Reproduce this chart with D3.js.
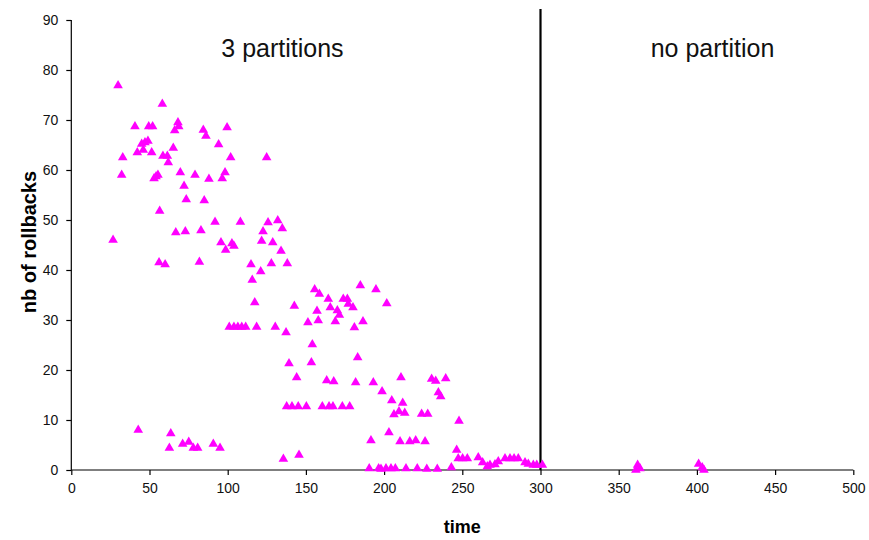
<!DOCTYPE html>
<html>
<head>
<meta charset="utf-8">
<script src="https://cdn.jsdelivr.net/npm/d3@7"></script>
<style>
  body { margin: 0; background: #fff; }
  svg { font-family: "Liberation Sans", Arial, sans-serif; }
</style>
</head>
<body>
<svg width="869" height="540"></svg>
<script>
// rollbacks seen while the system is split in 3 partitions (time, nb)
let threePartitions = [
  [29.9,76.9],[58.2,73.2],[40.7,68.7],[49.5,68.7],[52.0,68.7],
  [68.2,69.5],[68.7,68.7],[66.1,67.9],[84.4,68.0],[86.1,66.8],
  [99.6,68.5],[94.2,65.1],[45.0,65.2],[47.1,65.5],[49.0,65.8],
  [46.0,64.0],[42.2,63.5],[51.4,63.5],[65.2,64.4],[58.6,62.8],
  [61.4,62.8],[62.0,61.5],[32.9,62.5],[101.9,62.5],[124.9,62.5],
  [32.2,59.0],[52.9,58.3],[54.2,58.7],[55.4,59.0],[69.7,59.5],
  [79.1,59.0],[88.0,58.2],[98.3,59.5],[96.5,58.3],[72.1,56.8],
  [73.5,54.1],[85.0,53.9],[56.5,51.8],[91.9,49.6],[108.1,49.6],
  [125.8,49.5],[132.0,49.9],[122.6,47.7],[134.9,48.3],[66.8,47.5],
  [72.9,47.7],[82.9,47.9],[26.7,46.0],[95.7,45.5],[102.7,45.3],
  [104.0,44.8],[98.7,44.0],[121.7,45.8],[128.8,45.5],[134.1,43.8],
  [56.1,41.5],[60.0,41.1],[81.9,41.6],[114.9,41.1],[127.9,41.3],
  [138.1,41.3],[121.1,39.7],[115.7,38.0],[117.3,33.5],
  [101.0,28.6],[104.0,28.6],[106.5,28.6],[109.0,28.6],[111.5,28.6],
  [118.5,28.6],[130.4,28.6],[137.3,27.5],[139.2,21.3],
  [42.8,8.0],[63.6,7.3],[62.7,4.4],[71.2,5.2],[75.1,5.6],
  [78.0,4.4],[80.8,4.4],[90.8,5.2],[95.1,4.4],[135.6,2.2],
  [142.6,32.8],[144.1,18.5],[137.7,12.7],[141.1,12.7],[145.1,12.7],
  [150.3,12.7],[145.6,3.0],
  [155.6,36.1],[158.6,35.2],[164.3,34.2],[165.6,32.5],[157.1,31.8],
  [157.9,29.9],[151.3,29.5],[154.1,25.1],[153.5,21.5],
  [173.9,34.2],[176.5,34.2],[177.1,33.2],[180.1,32.5],[170.1,31.9],
  [171.4,31.0],[168.8,29.7],[184.8,36.9],[194.8,36.1],[201.7,33.3],
  [186.5,29.7],[181.0,28.5],[183.1,22.5],[163.3,17.9],[167.8,17.7],
  [181.8,17.5],[193.1,17.5],[198.7,15.7],[210.8,18.5],[204.9,13.9],
  [211.9,13.4],[206.3,11.1],[209.5,11.7],[213.2,11.4],
  [160.5,12.7],[164.8,12.7],[167.3,12.7],[173.3,12.7],[178.0,12.7],
  [203.1,7.5],[191.6,5.9],[210.2,5.7],[216.4,5.7],[220.2,5.9],
  [190.5,0.3],[196.5,0.3],[198.0,0.2],[201.2,0.3],[204.4,0.3],
  [207.2,0.3],[214.0,0.3],[221.2,0.3],
  [230.4,18.2],[233.0,17.8],[239.4,18.3],[234.7,15.5],[236.2,14.7],
  [224.0,11.2],[227.9,11.2],[226.2,5.7],[247.9,9.8],[246.4,4.0],
  [247.4,2.3],[250.2,2.3],[253.2,2.3],[260.2,2.5],[263.0,1.5],
  [266.0,0.7],[267.7,1.0],[270.9,1.1],[273.0,1.7],
  [277.3,2.3],[280.5,2.3],[283.1,2.3],[285.8,2.3],
  [290.1,1.5],[292.2,1.2],[295.4,1.0],[297.6,1.0],[301.2,1.0],
  [227.3,0.2],[234.0,0.2],[243.0,0.5]
];

// after the partitions are merged
let noPartition = [
  [362.1,1.0],[363.6,0.3],[361.0,0.0],
  [401.1,1.2],[403.4,0.5],[404.5,0.0]
];

let xTicks = [0, 50, 100, 150, 200, 250, 300, 350, 400, 450, 500];
let yTicks = [0, 10, 20, 30, 40, 50, 60, 70, 80, 90];
let splitTime = 300;
let phaseLabels = [{t: 135, text: "3 partitions"}, {t: 410, text: "no partition"}];

let svg = d3.select("svg");

let xScale = d3.scaleLinear().domain([0, 500]).range([71.3, 853.3]);
let yScale = d3.scaleLinear().domain([0, 90]).range([470, 20]);

// axes
let xAxis = svg.append("g")
  .attr("transform", "translate(0,470)")
  .call(d3.axisBottom(xScale).tickValues(xTicks).tickSize(5).tickPadding(8));
let yAxis = svg.append("g")
  .attr("transform", "translate(71.3,0)")
  .call(d3.axisLeft(yScale).tickValues(yTicks).tickSize(5).tickPadding(8));

svg.selectAll(".domain, .tick line").attr("stroke", "#000").attr("stroke-width", 1.2);
svg.selectAll(".tick text").attr("font-size", 14).attr("fill", "#111")
  .attr("font-family", "Liberation Sans, Arial, sans-serif");
xAxis.selectAll(".domain").attr("d", "M71.3,0H853.3");
yAxis.selectAll(".domain").attr("d", "M0,470V20");

// split line at t = 300
svg.append("line")
  .attr("x1", xScale(splitTime)).attr("x2", xScale(splitTime))
  .attr("y1", 9).attr("y2", yScale(0))
  .attr("stroke", "#000").attr("stroke-width", 2.2);

// phase labels
svg.selectAll(".phase")
  .data(phaseLabels)
  .enter()
  .append("text")
  .attr("class", "phase")
  .attr("x", d => xScale(d.t))
  .attr("y", 56.5)
  .attr("text-anchor", "middle")
  .attr("font-size", 25)
  .attr("fill", "#111")
  .text(d => d.text);

// triangles
let tri = d3.symbol().type(d3.symbolTriangle).size(40);
svg.selectAll(".point")
  .data(threePartitions.concat(noPartition))
  .enter()
  .append("path")
  .attr("class", "point")
  .attr("d", tri)
  .attr("transform", d => "translate(" + xScale(d[0]) + "," + yScale(d[1]) + ")")
  .style("fill", "#ff00ff");

// axis titles
svg.append("text")
  .attr("x", 462.3).attr("y", 533)
  .attr("text-anchor", "middle")
  .attr("font-size", 18).attr("font-weight", "bold")
  .text("time");

svg.append("text")
  .attr("transform", "translate(36,242) rotate(-90)")
  .attr("text-anchor", "middle")
  .attr("font-size", 20).attr("font-weight", "bold")
  .text("nb of rollbacks");
</script>
</body>
</html>
